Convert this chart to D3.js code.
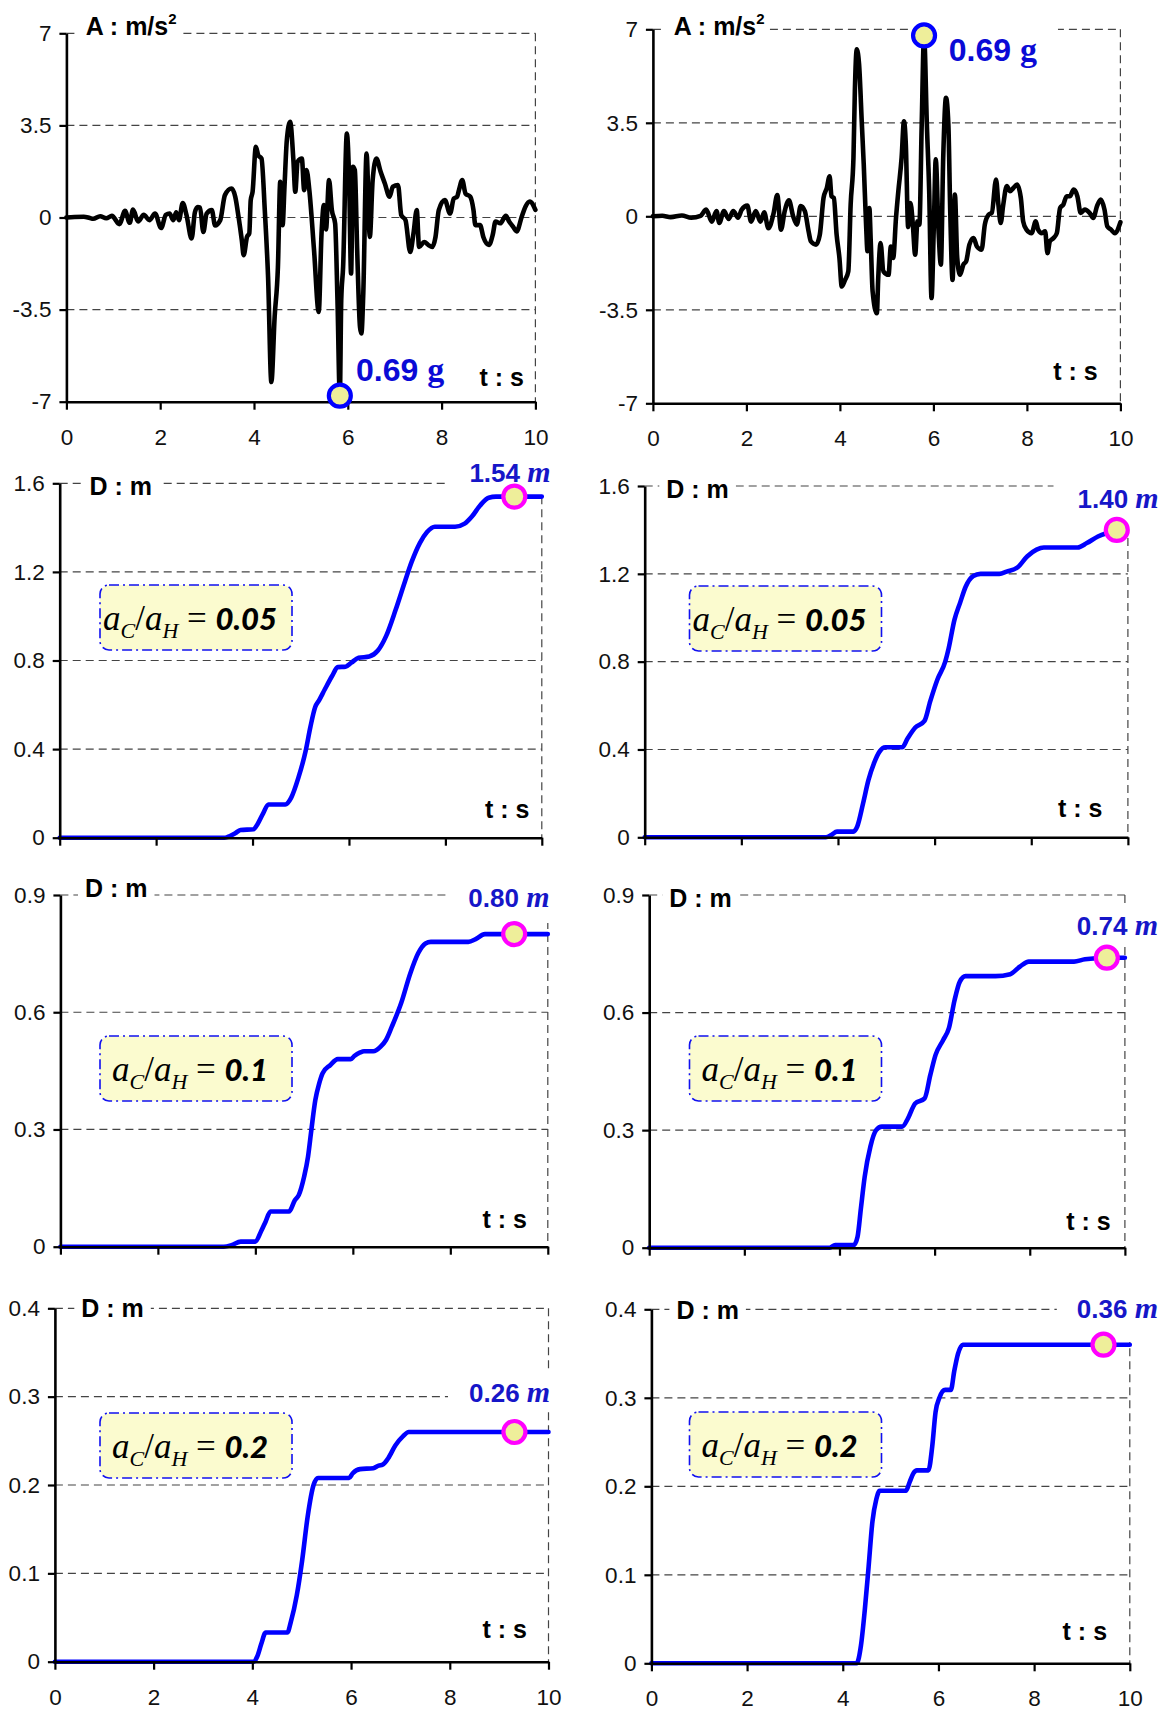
<!DOCTYPE html>
<html>
<head>
<meta charset="utf-8">
<script src="https://cdn.jsdelivr.net/npm/d3@7"></script>
<style>
  body { margin: 0; background: #fff; }
  svg { display: block; }
  text { white-space: pre; }
</style>
</head>
<body>
<svg id="chart" width="1170" height="1711"></svg>
<script>
// ---------- data ----------
const timeTicks = [0, 2, 4, 6, 8, 10];
const accelTicks = [-7, -3.5, 0, 3.5, 7];
const accelTickLabels = ["-7", "-3.5", "0", "3.5", "7"];
const disp1Ticks = [0, 0.4, 0.8, 1.2, 1.6];
const disp1TickLabels = ["0", "0.4", "0.8", "1.2", "1.6"];
const disp2Ticks = [0, 0.3, 0.6, 0.9];
const disp2TickLabels = ["0", "0.3", "0.6", "0.9"];
const disp3Ticks = [0, 0.1, 0.2, 0.3, 0.4];
const disp3TickLabels = ["0", "0.1", "0.2", "0.3", "0.4"];

// ground acceleration records [t (s), A (m/s2)]
const accelLeft = [
  [0,0],[0.17,0.02],[0.37,0.03],[0.5,-0.02],[0.57,-0.05],[0.72,0.05],[0.85,-0.03],[0.97,0.06],
  [1.13,-0.25],[1.25,0.25],[1.35,-0.2],[1.42,0.3],[1.53,-0.15],[1.65,0.1],[1.77,-0.1],[1.89,0.15],
  [2.02,-0.4],[2.12,0.1],[2.2,0.15],[2.28,-0.1],[2.34,0.2],[2.4,-0.1],[2.48,0.55],[2.56,0.1],
  [2.67,-0.8],[2.74,0.2],[2.8,0.4],[2.85,0.38],[2.92,-0.55],[2.99,0.15],[3.1,0.28],[3.17,-0.3],
  [3.28,-0.1],[3.38,0.85],[3.52,1.1],[3.6,0.79],[3.67,0.03],[3.74,-0.86],[3.78,-1.43],[3.85,-0.74],
  [3.9,-0.6],[3.93,0.66],[3.97,0.98],[4.04,2.69],[4.09,2.37],[4.16,2.24],[4.23,0.28],[4.3,-2.26],
  [4.37,-6.25],[4.44,-3.78],[4.51,-1.88],[4.56,1.36],[4.61,-0.29],[4.65,1.17],[4.7,2.94],[4.77,3.64],
  [4.84,2.18],[4.88,0.98],[4.93,2.12],[5.02,2.24],[5.07,1.04],[5.12,1.8],[5.18,1.04],[5.28,-1.24],
  [5.38,-3.59],[5.44,-0.6],[5.49,0.47],[5.535,-0.45],[5.6,1.42],[5.66,0.28],[5.73,-0.23],[5.78,-3.14],
  [5.83,-6.77],[5.86,-3.14],[5.9,-1.88],[5.98,3.19],[6.03,1.29],[6.07,-2.13],[6.11,1.93],[6.15,1.8],
  [6.2,-1.24],[6.26,-4.16],[6.29,-4.41],[6.33,-2.89],[6.4,2.43],[6.47,-0.74],[6.53,1.42],[6.61,2.24],
  [6.7,1.74],[6.79,1.29],[6.89,0.79],[6.96,1.17],[7.07,1.23],[7.14,0.09],[7.23,-0.1],[7.33,-1.31],
  [7.4,-0.61],[7.47,0.28],[7.52,-1.12],[7.63,-0.93],[7.72,-1.05],[7.8,-1.12],[7.87,-0.74],[7.94,0.28],
  [8.07,0.66],[8.18,0.15],[8.26,0.72],[8.33,0.79],[8.37,1.04],[8.44,1.42],[8.51,0.91],[8.61,0.79],
  [8.68,0.28],[8.72,-0.29],[8.82,-0.29],[8.89,-0.74],[9.01,-1.04],[9.09,-0.66],[9.15,-0.15],[9.25,-0.22],
  [9.37,0.06],[9.44,-0.15],[9.52,-0.34],[9.6,-0.53],[9.71,0.04],[9.79,0.42],[9.88,0.61],[10,0.29]
];
const accelRight = [
  [0,0],[0.2,0.02],[0.38,-0.03],[0.62,0.03],[0.82,-0.05],[1.02,0.02],[1.14,0.25],[1.26,-0.2],
  [1.36,0.2],[1.42,-0.25],[1.52,0.2],[1.62,-0.1],[1.72,0.2],[1.82,-0.05],[1.9,0.25],[2.02,0.4],
  [2.1,-0.2],[2.2,0.2],[2.3,-0.2],[2.38,0.15],[2.47,-0.45],[2.58,0.1],[2.66,0.8],[2.74,-0.5],
  [2.82,0.2],[2.91,0.6],[3.0,0],[3.08,-0.31],[3.16,0.38],[3.25,0.19],[3.33,-0.56],[3.38,-0.94],
  [3.49,-1.06],[3.57,-0.69],[3.65,0.69],[3.72,1.06],[3.78,1.5],[3.82,0.75],[3.87,0.69],[3.93,-0.69],
  [3.99,-1.56],[4.04,-2.63],[4.11,-2.38],[4.18,-2.06],[4.23,0.44],[4.29,2.19],[4.32,4.69],[4.36,6.25],
  [4.41,5.69],[4.47,3.44],[4.51,1.94],[4.56,-0.31],[4.59,-1.31],[4.63,0.31],[4.66,-0.94],[4.7,-2.81],
  [4.79,-3.63],[4.82,-2.31],[4.87,-1.0],[4.93,-2.06],[5.04,-2.19],[5.09,-1.13],[5.14,-1.56],[5.2,-0.06],
  [5.25,0.94],[5.32,2.19],[5.37,3.56],[5.41,2.69],[5.46,-0.4],[5.51,0.5],[5.56,-0.3],[5.61,-1.44],
  [5.66,-0.19],[5.7,-0.31],[5.75,3.44],[5.8,6.77],[5.86,3.44],[5.91,0.94],[5.96,-3.06],[6.01,-0.31],
  [6.05,2.13],[6.11,-0.56],[6.16,-1.81],[6.21,2.19],[6.27,4.44],[6.32,3.44],[6.36,0.19],[6.41,-2.38],
  [6.46,0.81],[6.51,-1.56],[6.57,-2.19],[6.64,-1.81],[6.7,-1.69],[6.77,-1.06],[6.86,-0.81],[6.93,-1.13],
  [7.03,-1.25],[7.1,-0.31],[7.18,0.06],[7.25,0.13],[7.34,1.38],[7.39,0.44],[7.44,-0.25],[7.49,0.38],
  [7.57,1.13],[7.64,0.94],[7.71,1.06],[7.79,1.19],[7.87,0.69],[7.92,-0.19],[7.99,-0.5],[8.1,-0.63],
  [8.19,-0.19],[8.24,-0.5],[8.32,-0.63],[8.39,-0.56],[8.44,-1.38],[8.49,-0.94],[8.57,-0.81],[8.64,-0.63],
  [8.71,0.31],[8.78,0.44],[8.85,0.75],[8.92,0.75],[9.0,1.0],[9.08,0.75],[9.15,0.13],[9.24,0.25],
  [9.34,0.13],[9.42,-0.06],[9.5,0.38],[9.58,0.63],[9.66,0.25],[9.72,-0.38],[9.8,-0.5],[9.88,-0.63],[10,-0.22]
];
const peakLeft = [5.83, -6.77];
const peakRight = [5.80, 6.77];
const peakLabel = "0.69";

// sliding displacement histories [t (s), D (m)] for each a_C/a_H ratio
const dispLeft005 = [
  [0,0],[3.41,0],[3.48,0.003],[3.64,0.02],[3.75,0.035],[4.02,0.038],[4.1,0.06],[4.22,0.11],[4.33,0.15],
  [4.68,0.15],[4.8,0.18],[4.95,0.27],[5.1,0.39],[5.2,0.5],[5.3,0.59],[5.38,0.62],[5.5,0.67],[5.65,0.73],
  [5.77,0.77],[5.93,0.772],[6.05,0.79],[6.2,0.812],[6.42,0.818],[6.6,0.845],[6.77,0.91],[6.97,1.03],
  [7.16,1.156],[7.3,1.245],[7.47,1.33],[7.62,1.38],[7.78,1.404],[8.2,1.404],[8.4,1.418],[8.55,1.45],
  [8.72,1.5],[8.9,1.535],[9.05,1.54],[10,1.54]
];
const dispRight005 = [
  [0,0],[3.75,0],[3.86,0.01],[3.98,0.026],[4.32,0.026],[4.4,0.05],[4.52,0.155],[4.63,0.26],[4.75,0.34],
  [4.86,0.39],[4.98,0.41],[5.33,0.41],[5.44,0.45],[5.6,0.5],[5.79,0.53],[5.91,0.62],[6.06,0.72],
  [6.22,0.8],[6.29,0.86],[6.41,0.99],[6.53,1.07],[6.64,1.14],[6.8,1.19],[6.95,1.2],[7.34,1.2],
  [7.49,1.21],[7.72,1.23],[7.92,1.28],[8.11,1.31],[8.26,1.32],[8.96,1.32],[9.15,1.34],[9.38,1.37],[9.8,1.40]
];
const dispLeft01 = [
  [0,0],[3.35,0],[3.51,0.004],[3.7,0.013],[4.0,0.013],[4.12,0.04],[4.21,0.064],[4.31,0.09],[4.69,0.09],
  [4.81,0.119],[4.89,0.132],[5.0,0.179],[5.08,0.23],[5.15,0.3],[5.23,0.375],[5.31,0.418],[5.38,0.444],
  [5.54,0.465],[5.69,0.48],[5.96,0.48],[6.03,0.488],[6.15,0.497],[6.23,0.5],[6.42,0.5],[6.57,0.512],
  [6.68,0.529],[6.8,0.563],[6.99,0.623],[7.18,0.7],[7.34,0.751],[7.49,0.776],[7.6,0.78],[8.37,0.78],
  [8.52,0.787],[8.71,0.8],[10,0.8]
];
const dispRight01 = [
  [0,0],[3.79,0],[3.91,0.007],[4.3,0.007],[4.38,0.028],[4.45,0.1],[4.53,0.181],[4.65,0.258],[4.77,0.3],
  [4.89,0.309],[5.32,0.309],[5.44,0.33],[5.59,0.368],[5.79,0.381],[5.91,0.441],[6.02,0.492],[6.18,0.53],
  [6.3,0.56],[6.42,0.632],[6.53,0.679],[6.65,0.693],[7.28,0.693],[7.59,0.698],[7.79,0.717],[7.98,0.73],
  [8.93,0.73],[9.16,0.736],[9.62,0.74],[10,0.74]
];
const dispLeft02 = [
  [0,0],[4.03,0],[4.1,0.006],[4.18,0.02],[4.27,0.033],[4.71,0.033],[4.78,0.045],[4.9,0.075],[5.01,0.115],
  [5.12,0.164],[5.24,0.2],[5.33,0.208],[5.96,0.208],[6.03,0.213],[6.18,0.218],[6.45,0.219],[6.56,0.222],
  [6.64,0.223],[6.75,0.23],[6.9,0.245],[7.05,0.255],[7.17,0.26],[10,0.26]
];
const dispRight02 = [
  [0,0],[4.29,0],[4.38,0.02],[4.46,0.06],[4.54,0.109],[4.62,0.16],[4.7,0.185],[4.77,0.195],[5.32,0.195],
  [5.4,0.205],[5.48,0.215],[5.55,0.218],[5.79,0.218],[5.87,0.245],[5.94,0.284],[6.02,0.3],[6.14,0.309],
  [6.26,0.309],[6.33,0.33],[6.41,0.35],[6.51,0.36],[10,0.36]
];
const finalPoints = [[9.43, 1.54], [9.77, 1.40], [9.31, 0.80], [9.62, 0.74], [9.31, 0.26], [9.45, 0.36]];
const finalLabels = ["1.54", "1.40", "0.80", "0.74", "0.26", "0.36"];
const ratioValues = ["0.05", "0.05", "0.1", "0.1", "0.2", "0.2"];

// ---------- drawing ----------
const SANS = "'Liberation Sans', Arial, Helvetica, sans-serif";
const SERIF = "'Liberation Serif', 'Times New Roman', serif";
const CAL = "Lato, 'Open Sans', sans-serif";
const svg = d3.select("#chart");

function label(g, x, y, parts, o = {}) {
  const sx = o.sx ?? 1;
  const lg = g.append("g").attr("transform", `translate(${x},${y}) scale(${sx},1)`);
  const bg = lg.append("rect").attr("fill", "#fff");
  const t = lg.append("text").attr("fill", o.fill || "#000");
  parts.forEach(p => {
    const ts = t.append("tspan").text(p.text)
      .attr("font-family", p.font || SANS).attr("font-size", p.size)
      .attr("font-weight", p.weight || "normal").attr("font-style", p.style || "normal");
    if (p.dy) ts.attr("dy", p.dy);
    if (p.dx) ts.attr("dx", p.dx);
  });
  if (o.bg) {
    const b = t.node().getBBox();
    const [pt, pr, pb, pl] = o.bg;
    bg.attr("x", b.x - pl / sx).attr("y", b.y - pt)
      .attr("width", b.width + (pl + pr) / sx).attr("height", b.height + pt + pb);
  } else bg.remove();
}

function ratioBox(g, x0, y0, w, h, value) {
  g.append("rect").attr("x", x0).attr("y", y0).attr("width", w).attr("height", h).attr("rx", 9)
    .attr("fill", "#fbfbcf").attr("stroke", "#1010f0").attr("stroke-width", 1.6)
    .attr("stroke-dasharray", "10,4,2,4");
  const t = g.append("text").attr("x", x0 + w / 2 - 6).attr("y", y0 + 45)
    .attr("text-anchor", "middle").attr("fill", "#000");
  const parts = [
    { text: "a", font: SERIF, size: 35, style: "italic" },
    { text: "C", font: SERIF, size: 22, style: "italic", dy: 8 },
    { text: "/", font: SERIF, size: 35, dy: -8 },
    { text: "a", font: SERIF, size: 35, style: "italic" },
    { text: "H", font: SERIF, size: 22, style: "italic", dy: 8 },
    { text: " = ", font: SERIF, size: 35, dy: -8 },
    { text: value, font: CAL, size: 31, style: "italic", weight: 900 }
  ];
  parts.forEach(p => {
    const ts = t.append("tspan").text(p.text).attr("font-family", p.font).attr("font-size", p.size)
      .attr("font-style", p.style || "normal").attr("font-weight", p.weight || "normal");
    if (p.dy) ts.attr("dy", p.dy);
  });
}

const panels = [
  { data: accelLeft, left: 66.4, right: 535.4, top: 33.3, bottom: 401.7, yMin: -7, yMax: 7,
    ticks: accelTicks, tickLabels: accelTickLabels, xLabels: true, stroke: "#000",
    marker: peakLeft, markerStroke: "#0000ff",
    title: { x: 85.8, y: 35, bg: [2, 5, 2, 9] },
    value: { x: 356, y: 381, text: peakLabel, unit: "g", bg: [2, 2, 2, 2] },
    ts: { x: 479.5, y: 386 } },
  { data: accelRight, left: 652.9, right: 1120.4, top: 29.3, bottom: 403.3, yMin: -7, yMax: 7,
    ticks: accelTicks, tickLabels: accelTickLabels, xLabels: true, stroke: "#000",
    marker: peakRight, markerStroke: "#0000ff",
    title: { x: 673.8, y: 35, bg: [2, 5, 2, 9] },
    value: { x: 948.8, y: 61, text: peakLabel, unit: "g", bg: [14, 21, 2, 10] },
    ts: { x: 1053.3, y: 380 } },
  { data: dispLeft005, left: 59.7, right: 541.8, top: 483.3, bottom: 837.7, yMin: 0, yMax: 1.6,
    ticks: disp1Ticks, tickLabels: disp1TickLabels, xLabels: false, stroke: "#0000ff",
    marker: finalPoints[0], markerStroke: "#ff00ff",
    title: { x: 89.6, y: 495, bg: [2, 7, 2, 7] },
    value: { x: 469.4, y: 482, text: finalLabels[0], unit: "m", bg: [2, 6, 7, 21] },
    ts: { x: 485, y: 818 }, box: { x: 100, y: 585, ratio: ratioValues[0] } },
  { data: dispRight005, left: 644.7, right: 1127.9, top: 486, bottom: 837.3, yMin: 0, yMax: 1.6,
    ticks: disp1Ticks, tickLabels: disp1TickLabels, xLabels: false, stroke: "#0000ff",
    marker: finalPoints[1], markerStroke: "#ff00ff",
    title: { x: 666.3, y: 498, bg: [2, 7, 2, 7] },
    value: { x: 1077.5, y: 508, text: finalLabels[1], unit: "m", bg: [14, 6, 15, 24] },
    ts: { x: 1058, y: 817 }, box: { x: 689.5, y: 586, ratio: ratioValues[1] } },
  { data: dispLeft01, left: 60.4, right: 547.8, top: 895, bottom: 1246.7, yMin: 0, yMax: 0.9,
    ticks: disp2Ticks, tickLabels: disp2TickLabels, xLabels: false, stroke: "#0000ff",
    marker: finalPoints[2], markerStroke: "#ff00ff",
    title: { x: 85, y: 897.3, bg: [2, 7, 2, 7] },
    value: { x: 468.3, y: 907, text: finalLabels[2], unit: "m", bg: [2, 6, 10, 20] },
    ts: { x: 482.5, y: 1228 }, box: { x: 100, y: 1036, ratio: ratioValues[2] } },
  { data: dispRight01, left: 649.2, right: 1124.9, top: 895, bottom: 1247.7, yMin: 0, yMax: 0.9,
    ticks: disp2Ticks, tickLabels: disp2TickLabels, xLabels: false, stroke: "#0000ff",
    marker: finalPoints[3], markerStroke: "#ff00ff",
    title: { x: 669.3, y: 907.3, bg: [2, 7, 2, 7] },
    value: { x: 1076.8, y: 935, text: finalLabels[3], unit: "m", bg: [3, 6, 3, 4] },
    ts: { x: 1066.3, y: 1230 }, box: { x: 689.5, y: 1036, ratio: ratioValues[3] } },
  { data: dispLeft02, left: 54.9, right: 548.5, top: 1308.3, bottom: 1661.7, yMin: 0, yMax: 0.4,
    ticks: disp3Ticks, tickLabels: disp3TickLabels, xLabels: true, stroke: "#0000ff",
    marker: finalPoints[4], markerStroke: "#ff00ff",
    title: { x: 81.3, y: 1316.7, bg: [2, 7, 2, 7] },
    value: { x: 469, y: 1402, text: finalLabels[4], unit: "m", bg: [3, 6, 3, 21] },
    ts: { x: 482.5, y: 1638.3 }, box: { x: 100, y: 1413, ratio: ratioValues[4] } },
  { data: dispRight02, left: 651.4, right: 1129.8, top: 1309.3, bottom: 1663.3, yMin: 0, yMax: 0.4,
    ticks: disp3Ticks, tickLabels: disp3TickLabels, xLabels: true, stroke: "#0000ff",
    marker: finalPoints[5], markerStroke: "#ff00ff",
    title: { x: 676.4, y: 1319.3, bg: [2, 7, 2, 7] },
    value: { x: 1076.8, y: 1318, text: finalLabels[5], unit: "m", bg: [10, 6, 18, 20] },
    ts: { x: 1062.6, y: 1640 }, box: { x: 689.5, y: 1412, ratio: ratioValues[5] } }
];

panels.forEach(p => {
  const g = svg.append("g");
  const x = d3.scaleLinear().domain([0, 10]).range([p.left, p.right]);
  const y = d3.scaleLinear().domain([p.yMin, p.yMax]).range([p.bottom, p.top]);

  // dashed horizontal gridlines (including the top frame line)
  g.selectAll("line.grid").data(p.ticks.filter(v => v !== p.yMin)).join("line")
    .attr("class", "grid")
    .attr("x1", x(0)).attr("x2", x(10)).attr("y1", d => y(d)).attr("y2", d => y(d))
    .attr("stroke", "#444").attr("stroke-width", 1.2).attr("stroke-dasharray", "8,5");
  // dashed right frame
  g.append("line").attr("x1", x(10)).attr("x2", x(10)).attr("y1", y(p.yMax)).attr("y2", y(p.yMin))
    .attr("stroke", "#444").attr("stroke-width", 1.2).attr("stroke-dasharray", "8,5");

  if (p.box) ratioBox(g, p.box.x, p.box.y, 192, 65, p.box.ratio);

  // axis titles
  const isAcc = p.yMin < 0;
  if (isAcc) {
    label(g, p.title.x, p.title.y, [
      { text: "A : m/s", size: 25, weight: "bold" },
      { text: "2", size: 15, weight: "bold", dy: -11 }
    ], { bg: p.title.bg });
  } else {
    label(g, p.title.x, p.title.y, [{ text: "D : m", size: 25, weight: "bold" }], { bg: p.title.bg });
  }
  label(g, p.ts.x, p.ts.y, [{ text: "t : s", size: 25, weight: "bold" }]);

  // value label
  if (isAcc) {
    label(g, p.value.x, p.value.y, [
      { text: p.value.text + " ", size: 32, weight: "bold" },
      { text: p.value.unit, font: SERIF, size: 34, weight: "bold" }
    ], { fill: "#0a0ad6", bg: p.value.bg });
  } else {
    label(g, p.value.x, p.value.y, [
      { text: p.value.text + " ", size: 26, weight: "bold" },
      { text: p.value.unit, font: SERIF, size: 30, weight: "bold", style: "italic" }
    ], { fill: "#1616c8", bg: p.value.bg });
  }

  // data line
  const line = d3.line().x(d => x(d[0])).y(d => y(d[1])).curve(d3.curveMonotoneX);
  g.append("path").datum(p.data).attr("d", line)
    .attr("fill", "none").attr("stroke", p.stroke).attr("stroke-width", 4.6)
    .attr("stroke-linejoin", "round").attr("stroke-linecap", "round");

  // axes
  const yAxis = d3.axisLeft(y).tickValues(p.ticks).tickFormat((d, k) => p.tickLabels[k])
    .tickSize(7).tickSizeOuter(0).tickPadding(8);
  const xAxis = d3.axisBottom(x).tickValues(timeTicks).tickSize(8).tickSizeOuter(0).tickPadding(19)
    .tickFormat(p.xLabels ? d3.format("d") : () => "");
  [g.append("g").attr("transform", `translate(${p.left},0)`).call(yAxis),
   g.append("g").attr("transform", `translate(0,${p.bottom})`).call(xAxis)].forEach(a => {
    a.select(".domain").attr("stroke", "#000").attr("stroke-width", 2.6);
    a.selectAll(".tick line").attr("stroke", "#000").attr("stroke-width", 2.2);
    a.selectAll(".tick text").attr("font-family", SANS).attr("font-size", 22.5).attr("fill", "#111");
  });

  // highlighted point
  g.append("circle").attr("cx", x(p.marker[0])).attr("cy", y(p.marker[1])).attr("r", 11)
    .attr("fill", "#eeee9a").attr("stroke", p.markerStroke).attr("stroke-width", 4.2);
});
</script>
</body>
</html>
